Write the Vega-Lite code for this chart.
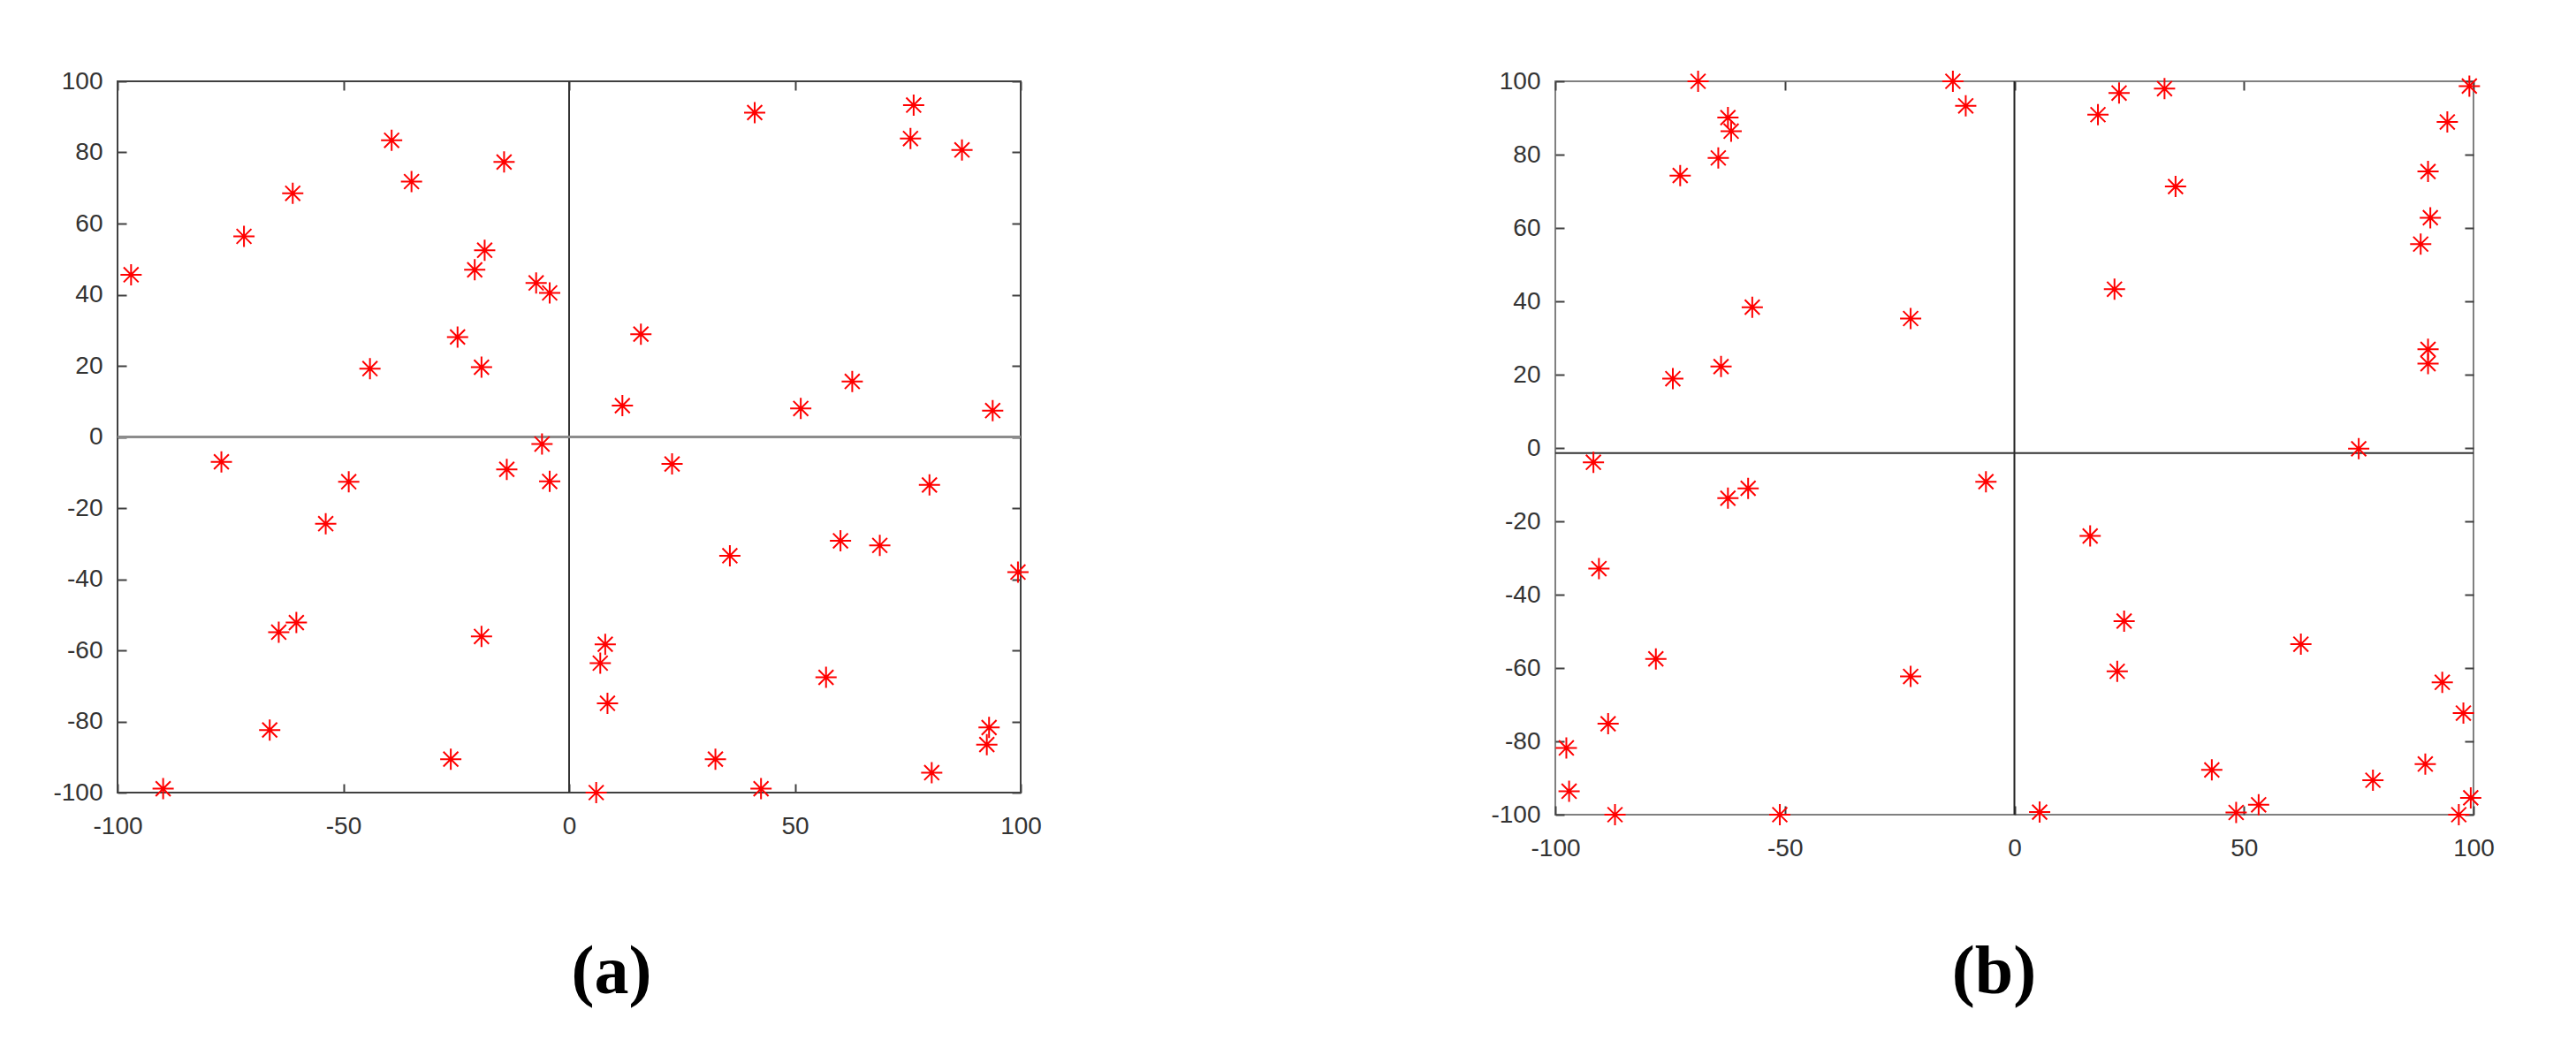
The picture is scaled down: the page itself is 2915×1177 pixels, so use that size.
{
  "$schema": "https://vega.github.io/schema/vega-lite/v6.json",
  "padding": {"left": 58, "top": 75, "right": 40, "bottom": 10},
  "background": "white",
  "bounds": "flush",
  "spacing": 605,
  "datasets": {
    "a": [
      {"x": -97, "y": 45.6}, {"x": -72, "y": 56.4}, {"x": -61.2, "y": 68.5}, {"x": -39.3, "y": 83.4},
      {"x": -34.9, "y": 71.8}, {"x": -14.4, "y": 77.3}, {"x": -18.7, "y": 52.5}, {"x": -20.9, "y": 47.0},
      {"x": -7.3, "y": 43.3}, {"x": -4.3, "y": 40.5}, {"x": -24.7, "y": 28.1}, {"x": -44.1, "y": 19.2},
      {"x": -19.4, "y": 19.6}, {"x": -6.0, "y": -2.0},
      {"x": 41.1, "y": 91.2}, {"x": 76.3, "y": 93.3}, {"x": 75.6, "y": 83.9}, {"x": 87.0, "y": 80.7},
      {"x": 15.9, "y": 28.9}, {"x": 11.8, "y": 8.8}, {"x": 51.3, "y": 8.0}, {"x": 62.7, "y": 15.6},
      {"x": 93.8, "y": 7.4},
      {"x": -77.0, "y": -7.0}, {"x": -48.8, "y": -12.6}, {"x": -53.9, "y": -24.4}, {"x": -64.3, "y": -54.9},
      {"x": -60.4, "y": -52.2}, {"x": -19.4, "y": -56.1}, {"x": -66.3, "y": -82.4}, {"x": -26.2, "y": -90.6},
      {"x": -89.9, "y": -98.9}, {"x": -13.8, "y": -9.1}, {"x": -4.3, "y": -12.5},
      {"x": 22.8, "y": -7.6}, {"x": 79.8, "y": -13.5}, {"x": 60.1, "y": -29.2}, {"x": 68.8, "y": -30.5},
      {"x": 35.6, "y": -33.4}, {"x": 99.4, "y": -38.0}, {"x": 8.0, "y": -58.3}, {"x": 6.9, "y": -63.6},
      {"x": 8.5, "y": -74.9}, {"x": 56.9, "y": -67.6}, {"x": 93.0, "y": -81.7}, {"x": 92.5, "y": -86.5},
      {"x": 32.4, "y": -90.6}, {"x": 42.5, "y": -98.9}, {"x": 6.0, "y": -100}, {"x": 80.3, "y": -94.4}
    ],
    "b": [
      {"x": -68.9, "y": 100}, {"x": -62.4, "y": 90.1}, {"x": -61.7, "y": 86.4}, {"x": -64.5, "y": 79.1},
      {"x": -72.8, "y": 74.3}, {"x": -57.1, "y": 38.4}, {"x": -74.4, "y": 18.9}, {"x": -63.9, "y": 22.2},
      {"x": -22.6, "y": 35.3}, {"x": -13.4, "y": 100}, {"x": -10.6, "y": 93.3},
      {"x": 22.8, "y": 96.8}, {"x": 18.2, "y": 90.9}, {"x": 32.7, "y": 98.0}, {"x": 35.1, "y": 71.3},
      {"x": 21.8, "y": 43.3}, {"x": 99.1, "y": 98.7}, {"x": 94.3, "y": 88.9}, {"x": 90.1, "y": 75.4},
      {"x": 90.6, "y": 62.8}, {"x": 88.5, "y": 55.6}, {"x": 90.1, "y": 26.9}, {"x": 90.1, "y": 23.0},
      {"x": 75.0, "y": -0.2},
      {"x": -91.7, "y": -3.9}, {"x": -62.4, "y": -13.7}, {"x": -58.0, "y": -11.0}, {"x": -6.2, "y": -9.2},
      {"x": -90.5, "y": -32.9}, {"x": -78.1, "y": -57.5}, {"x": -22.6, "y": -62.3}, {"x": -88.5, "y": -75.2},
      {"x": -97.6, "y": -81.8}, {"x": -97.0, "y": -93.6}, {"x": -87.0, "y": -100}, {"x": -51.1, "y": -100},
      {"x": 16.5, "y": -24.0}, {"x": 23.9, "y": -47.2}, {"x": 22.4, "y": -60.9}, {"x": 62.4, "y": -53.5},
      {"x": 93.2, "y": -63.9}, {"x": 97.8, "y": -72.3}, {"x": 43.0, "y": -87.8}, {"x": 89.5, "y": -86.2},
      {"x": 78.1, "y": -90.6}, {"x": 5.5, "y": -99.3}, {"x": 48.3, "y": -99.4}, {"x": 53.2, "y": -97.3},
      {"x": 99.4, "y": -95.4}, {"x": 96.8, "y": -100}
    ]
  },
  "hconcat": [
    {
      "width": 1022,
      "height": 805,
      "view": {"stroke": "#404040", "strokeWidth": 2},
      "title": {"text": "(a)", "orient": "bottom", "frame": "group", "anchor": "middle", "dx": 48, "offset": 175, "baseline": "alphabetic", "font": "Liberation Serif", "fontSize": 78, "fontWeight": "bold", "color": "black"},
      "resolve": {"axis": {"x": "independent", "y": "independent"}},
      "layer": [
        {
          "data": {"values": [{}]},
          "mark": {"type": "rule", "color": "#333333", "strokeWidth": 2},
          "encoding": {
            "x": {"datum": 0, "type": "quantitative", "scale": {"domain": [-100, 100], "nice": false, "zero": false},
              "axis": {"orient": "top", "title": null, "values": [-100, -50, 0, 50, 100], "labels": false, "domain": false, "grid": false, "tickSize": -10, "tickColor": "#404040", "tickWidth": 2}}
          }
        },
        {
          "data": {"values": [{}]},
          "mark": {"type": "rule", "color": "#8c8c8c", "strokeWidth": 3},
          "encoding": {
            "y": {"datum": 0, "type": "quantitative", "scale": {"domain": [-100, 100], "nice": false, "zero": false},
              "axis": {"orient": "right", "title": null, "values": [-100, -80, -60, -40, -20, 0, 20, 40, 60, 80, 100], "labels": false, "domain": false, "grid": false, "tickSize": -10, "tickColor": "#404040", "tickWidth": 2}}
          }
        },
        {
          "data": {"name": "a"},
          "mark": {"type": "point", "shape": "M-1,0L1,0M0,-1L0,1M-0.7,-0.7L0.7,0.7M-0.7,0.7L0.7,-0.7", "size": 576, "filled": false, "color": "#ff0000", "strokeWidth": 2, "opacity": 1},
          "encoding": {
            "x": {"field": "x", "type": "quantitative", "scale": {"domain": [-100, 100], "nice": false, "zero": false},
              "axis": {"orient": "bottom", "title": null, "values": [-100, -50, 0, 50, 100], "labelExpr": "'' + datum.value", "domain": false, "grid": false, "tickSize": -10, "tickColor": "#404040", "tickWidth": 2, "labelPadding": 34, "labelFont": "Liberation Sans", "labelFontSize": 28, "labelColor": "#333333", "labelFlush": false, "labelOverlap": false}},
            "y": {"field": "y", "type": "quantitative", "scale": {"domain": [-100, 100], "nice": false, "zero": false},
              "axis": {"orient": "left", "title": null, "values": [-100, -80, -60, -40, -20, 0, 20, 40, 60, 80, 100], "labelExpr": "'' + datum.value", "domain": false, "grid": false, "tickSize": -10, "tickColor": "#404040", "tickWidth": 2, "labelPadding": 27, "labelFont": "Liberation Sans", "labelFontSize": 28, "labelColor": "#333333", "labelFlush": false, "labelOverlap": false}}
          }
        }
      ]
    },
    {
      "width": 1039,
      "height": 830,
      "view": {"stroke": "#808080", "strokeWidth": 2},
      "title": {"text": "(b)", "orient": "bottom", "frame": "group", "anchor": "middle", "dx": -23, "offset": 150, "baseline": "alphabetic", "font": "Liberation Serif", "fontSize": 78, "fontWeight": "bold", "color": "black"},
      "resolve": {"axis": {"x": "independent", "y": "independent"}},
      "layer": [
        {
          "data": {"values": [{}]},
          "mark": {"type": "rule", "color": "#222222", "strokeWidth": 2},
          "encoding": {
            "x": {"datum": 0, "type": "quantitative", "scale": {"domain": [-100, 100], "nice": false, "zero": false},
              "axis": {"orient": "top", "title": null, "values": [-100, -50, 0, 50, 100], "labels": false, "domain": false, "grid": false, "tickSize": -10, "tickColor": "#404040", "tickWidth": 2}}
          }
        },
        {
          "data": {"values": [{}]},
          "mark": {"type": "rule", "color": "#333333", "strokeWidth": 2},
          "encoding": {
            "y": {"datum": -1.4, "type": "quantitative", "scale": {"domain": [-100, 100], "nice": false, "zero": false},
              "axis": {"orient": "right", "title": null, "values": [-100, -80, -60, -40, -20, 0, 20, 40, 60, 80, 100], "labels": false, "domain": false, "grid": false, "tickSize": -10, "tickColor": "#404040", "tickWidth": 2}}
          }
        },
        {
          "data": {"name": "b"},
          "mark": {"type": "point", "shape": "M-1,0L1,0M0,-1L0,1M-0.7,-0.7L0.7,0.7M-0.7,0.7L0.7,-0.7", "size": 576, "filled": false, "color": "#ff0000", "strokeWidth": 2, "opacity": 1},
          "encoding": {
            "x": {"field": "x", "type": "quantitative", "scale": {"domain": [-100, 100], "nice": false, "zero": false},
              "axis": {"orient": "bottom", "title": null, "values": [-100, -50, 0, 50, 100], "labelExpr": "'' + datum.value", "domain": false, "grid": false, "tickSize": -10, "tickColor": "#404040", "tickWidth": 2, "labelPadding": 34, "labelFont": "Liberation Sans", "labelFontSize": 28, "labelColor": "#333333", "labelFlush": false, "labelOverlap": false}},
            "y": {"field": "y", "type": "quantitative", "scale": {"domain": [-100, 100], "nice": false, "zero": false},
              "axis": {"orient": "left", "title": null, "values": [-100, -80, -60, -40, -20, 0, 20, 40, 60, 80, 100], "labelExpr": "'' + datum.value", "domain": false, "grid": false, "tickSize": -10, "tickColor": "#404040", "tickWidth": 2, "labelPadding": 27, "labelFont": "Liberation Sans", "labelFontSize": 28, "labelColor": "#333333", "labelFlush": false, "labelOverlap": false}}
          }
        }
      ]
    }
  ]
}
